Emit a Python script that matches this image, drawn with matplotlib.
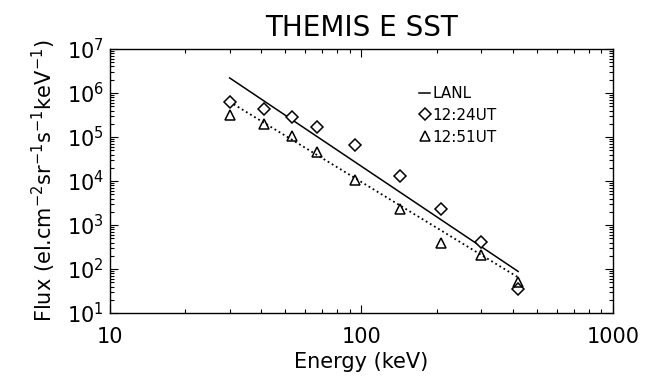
import numpy as np
import matplotlib
matplotlib.use("Agg")
import matplotlib.pyplot as plt
from matplotlib.ticker import LogLocator, LogFormatterMathtext, NullFormatter

# SST energy channels (keV) and measured fluxes
energy = [30, 41, 53, 66.5, 94.5, 142, 207, 298, 418]
flux_1224 = [6.2e5, 4.4e5, 2.8e5, 1.7e5, 6.5e4, 1.3e4, 2.3e3, 4.2e2, 36]
flux_1251 = [3.2e5, 2.0e5, 1.06e5, 4.5e4, 1.07e4, 2.3e3, 3.9e2, 2.1e2, 50]

# LANL reference spectrum and the dotted fit, given by their end points
lanl_energy = [30, 420]
lanl_flux = [2.2e6, 88]
fit_energy = [30, 425]
fit_flux = [6.3e5, 62]

plt.rcParams["font.family"] = ["DejaVu Sans"]
plt.rcParams["mathtext.default"] = "regular"

fig = plt.figure(figsize=(6.45, 3.90), dpi=100)
ax = fig.add_axes([0.1698, 0.1974, 0.7806, 0.677])

ax.plot(lanl_energy, lanl_flux, "-", color="black", lw=1.1, label="LANL")
ax.plot(fit_energy, fit_flux, ":", color="black", lw=1.3)
ax.plot(energy, flux_1224, "D", ms=6, mfc="white", mec="black", mew=1.1,
        ls="none", label="12:24UT")
ax.plot(energy, flux_1251, "^", ms=7.5, mfc="none", mec="black", mew=1.1,
        ls="none", label="12:51UT")

ax.set_xscale("log")
ax.set_yscale("log")
ax.set_xlim(10, 1000)
ax.set_ylim(10, 1e7)

ax.xaxis.set_major_locator(LogLocator(base=10))
ax.xaxis.set_minor_locator(LogLocator(base=10, subs=np.arange(2, 10)))
ax.yaxis.set_major_locator(LogLocator(base=10, numticks=10))
ax.yaxis.set_minor_locator(LogLocator(base=10, subs=np.arange(2, 10), numticks=10))
ax.xaxis.set_major_formatter(plt.FuncFormatter(lambda v, p: f"{v:g}"))
ax.yaxis.set_major_formatter(LogFormatterMathtext())
ax.xaxis.set_minor_formatter(NullFormatter())
ax.yaxis.set_minor_formatter(NullFormatter())

ax.tick_params(which="both", direction="in", top=True, right=True,
               width=0.8, labelsize=15)
ax.tick_params(which="major", length=6)
ax.tick_params(which="minor", length=3)
ax.tick_params(axis="x", pad=10)
ax.tick_params(axis="y", pad=4)
for s in ax.spines.values():
    s.set_linewidth(1.0)

ax.set_title("THEMIS E SST", fontsize=20, pad=9)
ax.set_xlabel("Energy (keV)", fontsize=15, labelpad=4)
ax.set_ylabel(r"Flux (el.cm$^{-2}$sr$^{-1}$s$^{-1}$keV$^{-1}$)", fontsize=15,
              labelpad=6)

ax.legend(loc="upper left", bbox_to_anchor=(0.615, 0.86), frameon=False,
          fontsize=11, handlelength=0.7, handletextpad=0.15,
          labelspacing=0.45, borderaxespad=0, borderpad=0)

fig.savefig("out.png", dpi=100)
